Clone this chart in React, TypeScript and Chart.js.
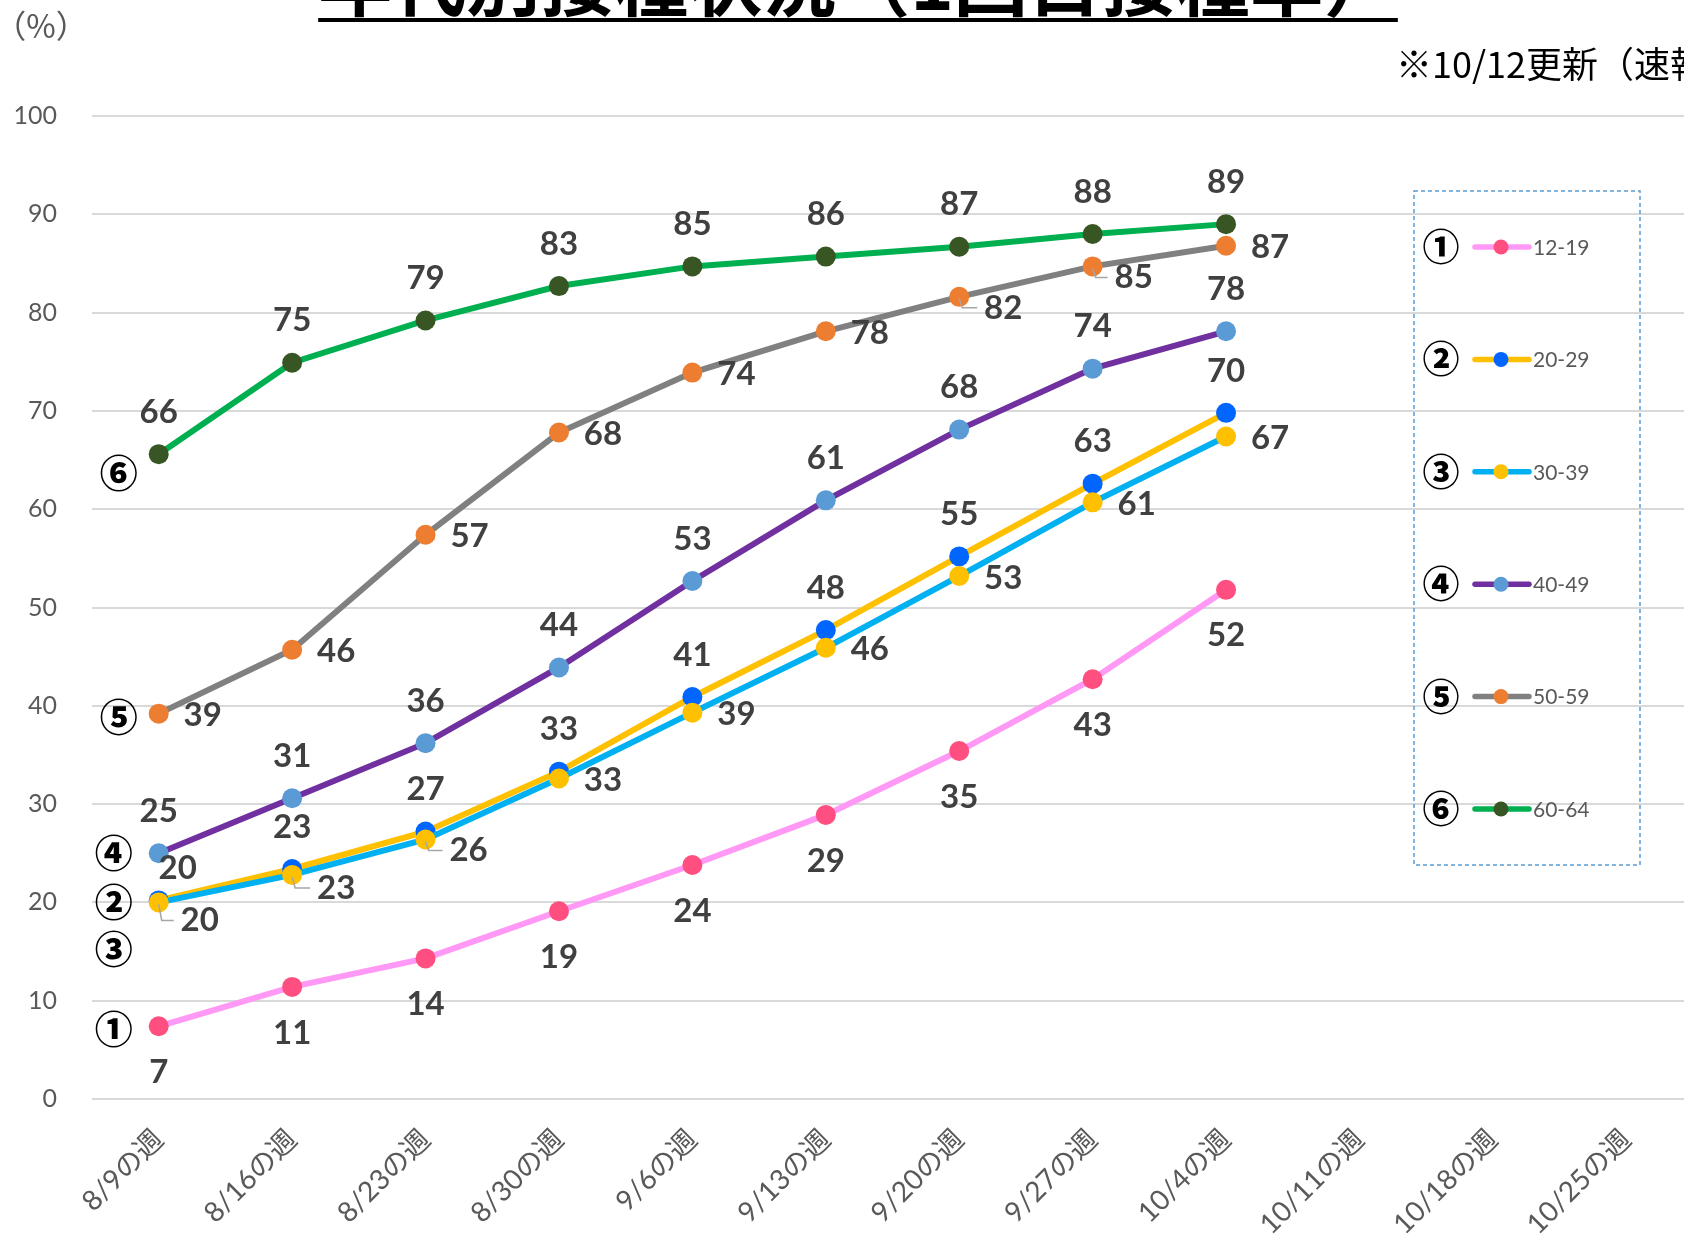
import React, { useEffect, useRef } from 'react';
import { Chart, registerables } from 'chart.js';

Chart.register(...registerables);

// ---------- data ----------
const categories = [
  '8/9の週', '8/16の週', '8/23の週', '8/30の週', '9/6の週', '9/13の週',
  '9/20の週', '9/27の週', '10/4の週', '10/11の週', '10/18の週', '10/25の週',
];
const seriesNames = ['12-19', '20-29', '30-39', '40-49', '50-59', '60-64'];
const circledMarks = ['①', '②', '③', '④', '⑤', '⑥'];

const rate12_19 = [7.4, 11.4, 14.3, 19.1, 23.8, 28.9, 35.4, 42.7, 51.8];
const rate20_29 = [20.2, 23.4, 27.2, 33.3, 40.9, 47.7, 55.2, 62.6, 69.8];
const rate30_39 = [20.0, 22.8, 26.4, 32.6, 39.3, 45.9, 53.2, 60.7, 67.4];
const rate40_49 = [25.0, 30.6, 36.2, 43.9, 52.7, 60.9, 68.1, 74.3, 78.1];
const rate50_59 = [39.2, 45.7, 57.4, 67.8, 73.9, 78.1, 81.6, 84.7, 86.8];
const rate60_64 = [65.6, 74.9, 79.2, 82.7, 84.7, 85.7, 86.7, 88.0, 89.0];

// level (in %) of the circled series marks placed beside the first week (①..⑥)
const markLevels = [7.2, 20.1, 15.3, 25.1, 38.9, 63.7];

const yMin = 0;
const yMax = 100;
const yStep = 10;

const titleText = '年代別接種状況（1回目接種率）';
const unitText = '（%）';
const noteText = '※10/12更新（速報値）';

// ---------- styles ----------
const lineColors = ['#ff99f5', '#ffc000', '#00b0f0', '#7030a0', '#808080', '#00b050'];
const pointColors = ['#ff4f81', '#0066ff', '#ffc000', '#5b9bd5', '#ed7d31', '#375623'];

// label placement per series: base offset + per-point nudges [dx, dy, leader]
type Nudge = [number, number, boolean];
const labelPlacement: { dx: number; dy: number; nudge: Record<number, Nudge> }[] = [
  { dx: 0, dy: 46, nudge: {} },
  { dx: 0, dy: -42, nudge: { 0: [19, 10, false] } },
  { dx: 44, dy: 2, nudge: { 0: [-3, 16, true], 1: [0, 11, true], 2: [-1, 9, true] } },
  { dx: 0, dy: -42, nudge: {} },
  { dx: 44, dy: 2, nudge: { 6: [0, 9, true], 7: [-3, 9, true] } },
  { dx: 0, dy: -42, nudge: {} },
];

const LABEL_FONT = "bold 33px Lato, 'Noto Sans', sans-serif";
const CJK = "'Noto Sans CJK JP', 'Noto Sans', sans-serif";

const allSeries = [rate12_19, rate20_29, rate30_39, rate40_49, rate50_59, rate60_64];

const overlayPlugin = {
  id: 'overlay',
  afterDatasetsDraw(chart: any) {
    const ctx = chart.ctx as CanvasRenderingContext2D;
    ctx.save();
    // data labels
    chart.data.datasets.forEach((ds: any, di: number) => {
      const meta = chart.getDatasetMeta(di);
      const pl = labelPlacement[di];
      meta.data.forEach((pt: any, i: number) => {
        const v = ds.data[i];
        if (v == null) return;
        const n = pl.nudge[i] || [0, 0, false];
        const lx = pt.x + pl.dx + n[0];
        const ly = pt.y + pl.dy + n[1];
        if (n[2]) {
          ctx.strokeStyle = '#a6a6a6';
          ctx.lineWidth = 1.5;
          ctx.beginPath();
          ctx.moveTo(pt.x, pt.y + 2);
          ctx.lineTo(pt.x + 3, ly);
          ctx.lineTo(lx - 26, ly);
          ctx.stroke();
        }
        ctx.font = LABEL_FONT;
        ctx.fillStyle = '#404040';
        ctx.textAlign = 'center';
        ctx.textBaseline = 'middle';
        ctx.fillText(String(Math.round(v)), lx, ly);
      });
    });
    // circled marks beside first week
    const xs = chart.scales.x;
    const ys = chart.scales.y;
    const x0 = xs.getPixelForValue(0);
    ctx.font = `900 38px ${CJK}`;
    ctx.fillStyle = '#000';
    ctx.textAlign = 'center';
    ctx.textBaseline = 'middle';
    markLevels.forEach((lv, i) => {
      const ox = i >= 4 ? -40 : -45;
      ctx.fillText(circledMarks[i], x0 + ox, ys.getPixelForValue(lv));
    });
    ctx.restore();
  },
  afterDraw(chart: any) {
    const ctx = chart.ctx as CanvasRenderingContext2D;
    ctx.save();
    // title (partially cut at top)
    ctx.font = `bold 74px ${CJK}`;
    ctx.fillStyle = '#000';
    ctx.textAlign = 'center';
    ctx.textBaseline = 'alphabetic';
    const tcx = 858;
    ctx.fillText(titleText, tcx, 10);
    const tw = ctx.measureText(titleText).width;
    ctx.fillRect(tcx - tw / 2, 18, tw, 4);
    // unit
    ctx.font = `32px ${CJK}`;
    ctx.fillStyle = '#595959';
    ctx.textAlign = 'center';
    ctx.textBaseline = 'middle';
    ctx.fillText(unitText, 41, 26);
    // note
    ctx.font = `36px ${CJK}`;
    ctx.fillStyle = '#000';
    ctx.textAlign = 'left';
    ctx.fillText(noteText, 1396, 64);
    // legend box
    const bx = 1414, by = 191, bw = 226, bh = 674;
    ctx.strokeStyle = '#5b9bd5';
    ctx.lineWidth = 1.5;
    ctx.setLineDash([4, 3]);
    ctx.strokeRect(bx, by, bw, bh);
    ctx.setLineDash([]);
    chart.data.datasets.forEach((ds: any, i: number) => {
      const y = 247 + i * 112.4;
      ctx.font = `900 37px ${CJK}`;
      ctx.fillStyle = '#000';
      ctx.textAlign = 'center';
      ctx.textBaseline = 'middle';
      ctx.fillText(circledMarks[i], 1441, y);
      ctx.strokeStyle = ds.borderColor;
      ctx.lineWidth = 5.5;
      ctx.lineCap = 'round';
      ctx.beginPath();
      ctx.moveTo(1475, y);
      ctx.lineTo(1529, y);
      ctx.stroke();
      ctx.fillStyle = ds.pointBackgroundColor;
      ctx.beginPath();
      ctx.arc(1501, y, 7.5, 0, Math.PI * 2);
      ctx.fill();
      ctx.font = '21px Lato, sans-serif';
      ctx.fillStyle = '#595959';
      ctx.textAlign = 'left';
      ctx.fillText(ds.label, 1533, y + 1);
    });
    ctx.restore();
  },
};

export default function App() {
  const ref = useRef<HTMLCanvasElement>(null);
  useEffect(() => {
    Chart.defaults.font.family = `Lato, ${CJK}`;
    const chart = new Chart(ref.current as HTMLCanvasElement, {
      type: 'line',
      data: {
        labels: categories,
        datasets: allSeries.map((vals, i) => ({
          label: seriesNames[i],
          data: vals,
          borderColor: lineColors[i],
          backgroundColor: lineColors[i],
          pointBackgroundColor: pointColors[i],
          pointBorderWidth: 0,
          pointRadius: 10,
          borderWidth: 6,
          tension: 0,
          order: 5 - i,
        })),
      },
      options: {
        animation: false,
        responsive: true,
        maintainAspectRatio: false,
        layout: { padding: { top: 116, right: 17, bottom: 0, left: 0 } },
        plugins: { legend: { display: false }, tooltip: { enabled: false } },
        scales: {
          x: {
            offset: true,
            grid: { display: false, drawTicks: false },
            border: { display: false },
            ticks: {
              autoSkip: false,
              minRotation: 45,
              maxRotation: 45,
              padding: 24,
              color: '#595959',
              font: { size: 28, family: `Lato, ${CJK}` },
            },
            afterFit: (s: any) => { s.height = 147; },
          },
          y: {
            min: yMin,
            max: yMax,
            grid: { color: '#d9d9d9', lineWidth: 2, drawTicks: false },
            border: { display: false },
            ticks: {
              stepSize: yStep,
              padding: 35,
              color: '#595959',
              font: { size: 25, family: 'Lato, sans-serif' },
            },
            afterFit: (s: any) => { s.width = 92; },
          },
        },
      },
      plugins: [overlayPlugin],
    } as any);
    return () => chart.destroy();
  }, []);
  return (
    <div style={{ position: 'fixed', inset: 0, overflow: 'hidden', background: '#fff' }}>
      <div style={{ position: 'relative', width: 1710, height: 1246 }}>
        <canvas ref={ref} style={{ display: 'block' }} />
      </div>
    </div>
  );
}
